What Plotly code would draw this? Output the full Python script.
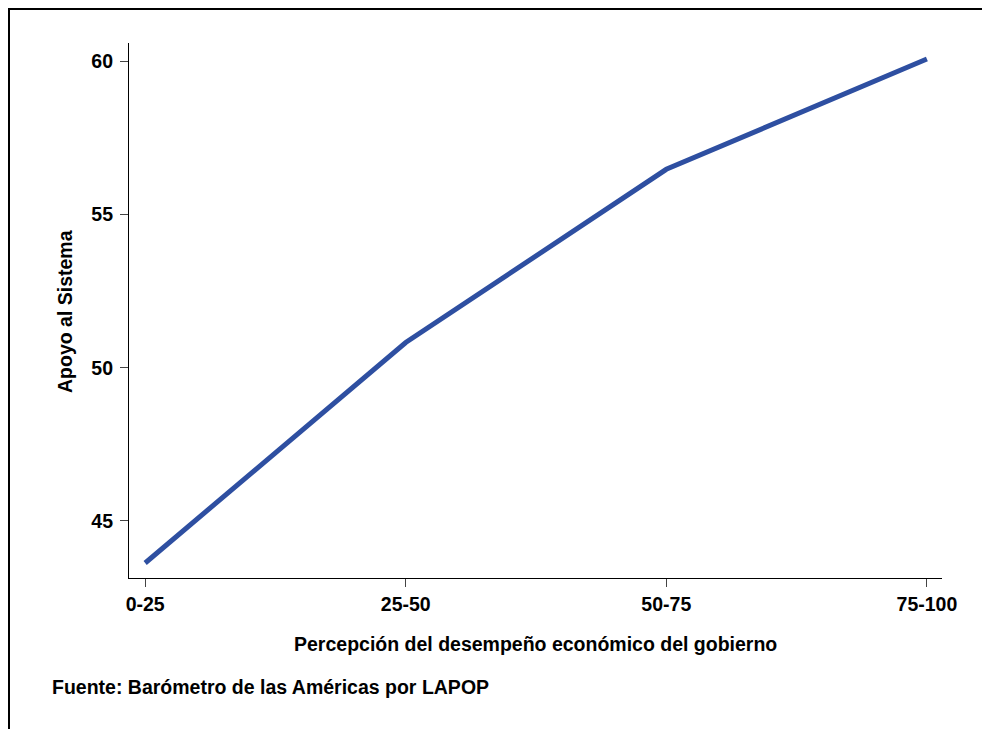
import plotly.graph_objects as go

categories = ["0-25", "25-50", "50-75", "75-100"]
apoyo = [43.63, 50.82, 56.47, 60.07]
y_ticks = [45, 50, 55, 60]

W, H = 982, 729
L, R, T, B = 129, 40, 43, 151
pw, ph = W - L - R, H - T - B

font = "Liberation Sans, Arial, sans-serif"
FS = 19.5

def px_x(x):  # figure px -> paper
    return (x - L) / pw

def px_y(y):
    return 1 - (y - T) / ph

fig = go.Figure()
fig.add_trace(go.Scatter(
    x=list(range(len(categories))), y=apoyo, mode="lines",
    line=dict(color="#2e4fa1", width=5), hoverinfo="skip", showlegend=False,
))

fig.update_layout(
    width=W, height=H,
    margin=dict(l=L, r=R, t=T, b=B, autoexpand=False),
    paper_bgcolor="white", plot_bgcolor="white",
    font=dict(family=font, color="black"),
    xaxis=dict(
        range=[-0.062, 3.058], tickmode="array", automargin=False,
        tickvals=list(range(len(categories))), ticktext=categories,
        showgrid=False, zeroline=False, showline=True, linecolor="black", linewidth=1.2,
        ticks="outside", ticklen=8, tickwidth=1, tickcolor="#444",
        tickfont=dict(size=FS, family=font, weight="bold"),
    ),
    yaxis=dict(
        range=[43.14, 60.59], tickmode="array", tickvals=y_ticks, automargin=False,
        showgrid=False, zeroline=False, showline=True, linecolor="black", linewidth=1.2,
        ticks="outside", ticklen=8, tickwidth=1, tickcolor="#444",
        tickfont=dict(size=FS, family=font, weight="bold"), ticklabelstandoff=3,
    ),
    shapes=[
        dict(type="line", xref="paper", yref="paper",
             x0=px_x(9), x1=px_x(W + 20), y0=px_y(9), y1=px_y(9),
             line=dict(color="black", width=2), layer="above"),
        dict(type="line", xref="paper", yref="paper",
             x0=px_x(9), x1=px_x(9), y0=px_y(8), y1=px_y(H + 20),
             line=dict(color="black", width=2), layer="above"),
    ],
    annotations=[
        dict(text="Percepción del desempeño económico del gobierno", xref="paper", yref="paper",
             x=0.5, y=px_y(644), xanchor="center", yanchor="middle", showarrow=False,
             font=dict(size=FS, family=font, weight="bold")),
        dict(text="Apoyo al Sistema", xref="paper", yref="paper",
             x=px_x(65), y=px_y(312), xanchor="center", yanchor="middle",
             textangle=-90, showarrow=False, font=dict(size=FS, family=font, weight="bold")),
        dict(text="Fuente: Barómetro de las Américas por LAPOP", xref="paper", yref="paper",
             x=px_x(50), y=px_y(687), xanchor="left", yanchor="middle",
             showarrow=False, font=dict(size=FS, family=font, weight="bold")),
    ],
)

fig.write_html(
    "out.html",
    config={"displayModeBar": False},
    post_script="document.documentElement.style.overflow='hidden';"
                "document.body.style.margin='0';document.body.style.overflow='hidden';",
)
